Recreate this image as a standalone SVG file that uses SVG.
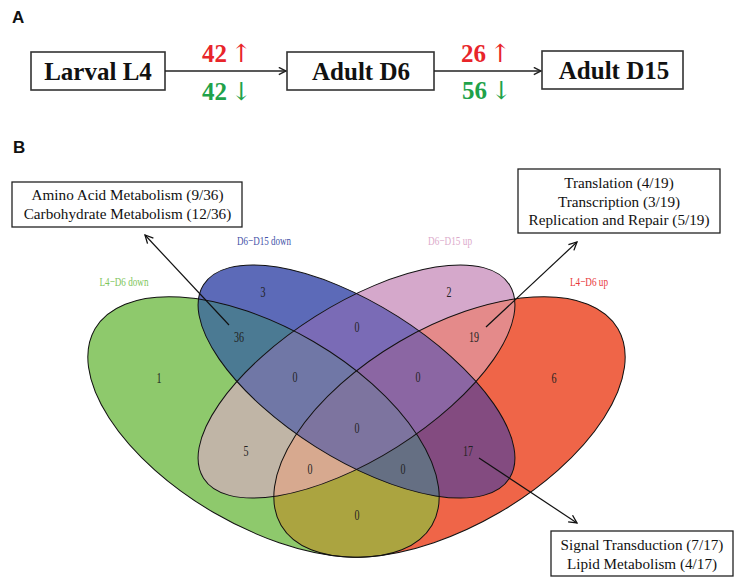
<svg xmlns="http://www.w3.org/2000/svg" xmlns:xlink="http://www.w3.org/1999/xlink" width="750" height="581" viewBox="0 0 750 581">
<style>
.panel{font-family:"Liberation Sans",Arial,sans-serif;font-weight:bold;font-size:17px;fill:#111}
.box{fill:#fff;stroke:#333;stroke-width:1.6}
.stage{font-family:"Liberation Serif","Times New Roman",serif;font-weight:bold;font-size:25px;fill:#111;text-anchor:middle}
.cnt{font-family:"Liberation Serif","Times New Roman",serif;font-weight:bold;font-size:25px}
.arr{font-family:"DejaVu Serif","Liberation Serif",serif;font-weight:normal;font-size:25px}
.up{fill:#e8252a}
.down{fill:#1fa24a}
.num{font-family:"Liberation Serif","Times New Roman",serif;font-size:15px;fill:#222;text-anchor:middle}
.set{font-family:"Liberation Serif","Times New Roman",serif;font-size:13px;text-anchor:middle}
.ann{font-family:"Liberation Serif","Times New Roman",serif;font-size:15.2px;fill:#111;text-anchor:middle}
.abox{fill:#fff;stroke:#222;stroke-width:1.3}
.link{fill:none;stroke:#222;stroke-width:1.5}
.vlink{fill:none;stroke:#111;stroke-width:1.2}
.outline{fill:none;stroke:#111;stroke-width:1}
</style>
<defs>
<ellipse id="eG" cx="263.5" cy="427" rx="195" ry="99" transform="rotate(30.25 263.5 427)"/>
<ellipse id="eB" cx="356.5" cy="381.5" rx="181" ry="77" transform="rotate(32.3 356.5 381.5)"/>
<ellipse id="eP" cx="356.5" cy="381.5" rx="181" ry="77" transform="rotate(-32.3 356.5 381.5)"/>
<ellipse id="eR" cx="449.5" cy="427" rx="195" ry="99" transform="rotate(-30.25 449.5 427)"/>
<clipPath id="cG"><ellipse cx="263.5" cy="427" rx="195" ry="99" transform="rotate(30.25 263.5 427)"/></clipPath>
<clipPath id="cB"><ellipse cx="356.5" cy="381.5" rx="181" ry="77" transform="rotate(32.3 356.5 381.5)"/></clipPath>
<clipPath id="cP"><ellipse cx="356.5" cy="381.5" rx="181" ry="77" transform="rotate(-32.3 356.5 381.5)"/></clipPath>
<marker id="headA" viewBox="0 0 10 10" refX="9" refY="5" markerWidth="9" markerHeight="9" markerUnits="userSpaceOnUse" orient="auto">
<path d="M1,1 L9,5 L1,9" fill="none" stroke="#222" stroke-width="1.6"/>
</marker>
<marker id="headV" viewBox="0 0 10 10" refX="9" refY="5" markerWidth="10" markerHeight="10" markerUnits="userSpaceOnUse" orient="auto">
<path d="M1,1 L9,5 L1,9" fill="none" stroke="#111" stroke-width="1.3"/>
</marker>
</defs>

<rect width="750" height="581" fill="#fff"/>

<text class="panel" x="12" y="23">A</text>
<text class="panel" x="13" y="153">B</text>

<!-- Part A nodes -->
<g id="node-larval-l4">
<rect class="box" x="31" y="52" width="134" height="38"/>
<text class="stage" x="98" y="80">Larval L4</text>
</g>
<g id="node-adult-d6">
<rect class="box" x="287" y="52" width="147" height="38"/>
<text class="stage" x="361" y="80">Adult D6</text>
</g>
<g id="node-adult-d15">
<rect class="box" x="542" y="51" width="141" height="38"/>
<text class="stage" x="614" y="79">Adult D15</text>
</g>

<!-- Venn diagram -->
<g id="venn">
<g id="venn-regions">
<use xlink:href="#eG" fill="#8ec96c"/>
<use xlink:href="#eB" fill="#5c6ab8"/>
<use xlink:href="#eP" fill="#d5a8cb"/>
<use xlink:href="#eR" fill="#ef6548"/>
<g clip-path="url(#cG)">
<use xlink:href="#eB" fill="#4b7a93"/>
<use xlink:href="#eP" fill="#c0b5a6"/>
<use xlink:href="#eR" fill="#aba440"/>
</g>
<g clip-path="url(#cB)">
<use xlink:href="#eP" fill="#7a6bb6"/>
<use xlink:href="#eR" fill="#834b80"/>
</g>
<g clip-path="url(#cP)">
<use xlink:href="#eR" fill="#e48a8a"/>
</g>
<g clip-path="url(#cG)">
<g clip-path="url(#cB)">
<use xlink:href="#eP" fill="#7077a6"/>
<use xlink:href="#eR" fill="#656f83"/>
</g>
<g clip-path="url(#cP)">
<use xlink:href="#eR" fill="#d7a98f"/>
</g>
</g>
<g clip-path="url(#cB)">
<g clip-path="url(#cP)">
<use xlink:href="#eR" fill="#8b66a3"/>
</g>
</g>
<g clip-path="url(#cG)">
<g clip-path="url(#cB)">
<g clip-path="url(#cP)">
<use xlink:href="#eR" fill="#7d749f"/>
</g>
</g>
</g>
</g>
<g id="venn-outlines">
<use xlink:href="#eG" class="outline"/>
<use xlink:href="#eB" class="outline"/>
<use xlink:href="#eP" class="outline"/>
<use xlink:href="#eR" class="outline"/>
</g>
<g id="set-l4-d6-down"><text class="set" x="124" y="286" fill="#7ec55c" textLength="49" lengthAdjust="spacingAndGlyphs">L4−D6 down</text></g>
<g id="set-d6-d15-down"><text class="set" x="264" y="245" fill="#4653a8" textLength="54" lengthAdjust="spacingAndGlyphs">D6−D15 down</text></g>
<g id="set-d6-d15-up"><text class="set" x="450" y="245" fill="#dcaacb" textLength="44" lengthAdjust="spacingAndGlyphs">D6−D15 up</text></g>
<g id="set-l4-d6-up"><text class="set" x="589" y="286" fill="#e8373a" textLength="38" lengthAdjust="spacingAndGlyphs">L4−D6 up</text></g>
<g id="venn-counts">
<text class="num" x="159" y="383" textLength="5" lengthAdjust="spacingAndGlyphs">1</text>
<text class="num" x="263" y="297" textLength="5" lengthAdjust="spacingAndGlyphs">3</text>
<text class="num" x="449" y="297" textLength="5" lengthAdjust="spacingAndGlyphs">2</text>
<text class="num" x="554" y="383" textLength="5" lengthAdjust="spacingAndGlyphs">6</text>
<text class="num" x="239" y="342" textLength="10" lengthAdjust="spacingAndGlyphs">36</text>
<text class="num" x="357" y="332" textLength="5" lengthAdjust="spacingAndGlyphs">0</text>
<text class="num" x="474" y="342" textLength="10" lengthAdjust="spacingAndGlyphs">19</text>
<text class="num" x="295" y="382" textLength="5" lengthAdjust="spacingAndGlyphs">0</text>
<text class="num" x="418" y="382" textLength="5" lengthAdjust="spacingAndGlyphs">0</text>
<text class="num" x="246" y="456" textLength="5" lengthAdjust="spacingAndGlyphs">5</text>
<text class="num" x="357" y="433" textLength="5" lengthAdjust="spacingAndGlyphs">0</text>
<text class="num" x="468" y="456" textLength="10" lengthAdjust="spacingAndGlyphs">17</text>
<text class="num" x="310" y="474" textLength="5" lengthAdjust="spacingAndGlyphs">0</text>
<text class="num" x="403" y="474" textLength="5" lengthAdjust="spacingAndGlyphs">0</text>
<text class="num" x="357" y="520" textLength="5" lengthAdjust="spacingAndGlyphs">0</text>
</g>
</g>

<!-- Annotation nodes -->
<g id="node-ann-36">
<rect class="abox" x="12" y="182" width="230" height="45"/>
<text class="ann" x="127.5" y="200">Amino Acid Metabolism (9/36)</text>
<text class="ann" x="127.5" y="219">Carbohydrate Metabolism (12/36)</text>
</g>
<g id="node-ann-19">
<rect class="abox" x="518" y="169" width="202" height="64"/>
<text class="ann" x="619" y="188">Translation (4/19)</text>
<text class="ann" x="619" y="207">Transcription (3/19)</text>
<text class="ann" x="619" y="225">Replication and Repair (5/19)</text>
</g>
<g id="node-ann-17">
<rect class="abox" x="551" y="531" width="182" height="45"/>
<text class="ann" x="642" y="550">Signal Transduction (7/17)</text>
<text class="ann" x="642" y="569">Lipid Metabolism (4/17)</text>
</g>

<!-- Connectors -->
<g id="connectors">
<g id="edge-l4-d6">
<line class="link" x1="165" y1="71" x2="286" y2="71" marker-end="url(#headA)"/>
<text x="202" y="62"><tspan class="cnt up">42</tspan><tspan class="arr up" dx="4">↑</tspan></text>
<text x="202" y="100"><tspan class="cnt down">42</tspan><tspan class="arr down" dx="4">↓</tspan></text>
</g>
<g id="edge-d6-d15">
<line class="link" x1="434" y1="71" x2="541" y2="71" marker-end="url(#headA)"/>
<text x="461" y="62"><tspan class="cnt up">26</tspan><tspan class="arr up" dx="4">↑</tspan></text>
<text x="462" y="99"><tspan class="cnt down">56</tspan><tspan class="arr down" dx="4">↓</tspan></text>
</g>
<line class="vlink" x1="229" y1="325" x2="145" y2="235" marker-end="url(#headV)"/>
<line class="vlink" x1="486" y1="327" x2="577" y2="242" marker-end="url(#headV)"/>
<line class="vlink" x1="479" y1="458" x2="577" y2="523" marker-end="url(#headV)"/>
</g>
</svg>
